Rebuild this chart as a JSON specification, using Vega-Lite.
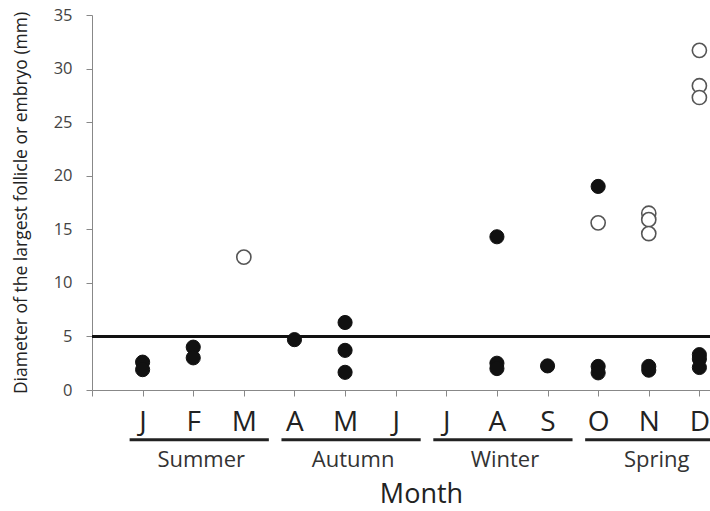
{
  "$schema": "https://vega.github.io/schema/vega-lite/v6.json",
  "autosize": "none",
  "padding": {"left": 92, "top": 15, "right": 0, "bottom": 121},
  "width": 658,
  "height": 375,
  "config": {"view": {"stroke": null}, "font": "Open Sans"},
  "datasets": {
    "points": [
      {"month": 1, "diameter": 2.6, "type": "follicle"},
      {"month": 1, "diameter": 1.9, "type": "follicle"},
      {"month": 2, "diameter": 4.0, "type": "follicle"},
      {"month": 2, "diameter": 3.0, "type": "follicle"},
      {"month": 3, "diameter": 12.4, "type": "embryo"},
      {"month": 4, "diameter": 4.7, "type": "follicle"},
      {"month": 5, "diameter": 6.3, "type": "follicle"},
      {"month": 5, "diameter": 3.7, "type": "follicle"},
      {"month": 5, "diameter": 1.65, "type": "follicle"},
      {"month": 8, "diameter": 14.3, "type": "follicle"},
      {"month": 8, "diameter": 2.5, "type": "follicle"},
      {"month": 8, "diameter": 2.0, "type": "follicle"},
      {"month": 9, "diameter": 2.25, "type": "follicle"},
      {"month": 10, "diameter": 19.0, "type": "follicle"},
      {"month": 10, "diameter": 15.6, "type": "embryo"},
      {"month": 10, "diameter": 2.2, "type": "follicle"},
      {"month": 10, "diameter": 1.6, "type": "follicle"},
      {"month": 11, "diameter": 16.5, "type": "embryo"},
      {"month": 11, "diameter": 15.9, "type": "embryo"},
      {"month": 11, "diameter": 14.6, "type": "embryo"},
      {"month": 11, "diameter": 2.2, "type": "follicle"},
      {"month": 11, "diameter": 1.85, "type": "follicle"},
      {"month": 12, "diameter": 31.7, "type": "embryo"},
      {"month": 12, "diameter": 28.4, "type": "embryo"},
      {"month": 12, "diameter": 27.3, "type": "embryo"},
      {"month": 12, "diameter": 3.3, "type": "follicle"},
      {"month": 12, "diameter": 2.9, "type": "follicle"},
      {"month": 12, "diameter": 2.1, "type": "follicle"}
    ],
    "seasons": [
      {"season": "Summer", "start": 1, "mid": 2, "end": 3},
      {"season": "Autumn", "start": 4, "mid": 5, "end": 6},
      {"season": "Winter", "start": 7, "mid": 8, "end": 9},
      {"season": "Spring", "start": 10, "mid": 11, "end": 12}
    ]
  },
  "layer": [
    {
      "data": {"values": [{"threshold": 5}]},
      "mark": {"type": "rule", "color": "#111", "strokeWidth": 3},
      "encoding": {"y": {"field": "threshold", "type": "quantitative", "scale": {"domain": [0, 35], "nice": false}}}
    },
    {
      "data": {"name": "points"},
      "mark": {"type": "point", "shape": "circle", "filled": false, "opacity": 1, "size": 200},
      "encoding": {
        "x": {
          "field": "month", "type": "quantitative",
          "scale": {"domain": [0, 13], "nice": false, "zero": false},
          "axis": {
            "title": "Month",
            "values": [0, 1, 2, 3, 4, 5, 6, 7, 8, 9, 10, 11, 12, 13],
            "labelExpr": "['','J','F','M','A','M','J','J','A','S','O','N','D',''][datum.value]",
            "labelFontSize": 28, "labelColor": "#222", "labelPadding": 12,
            "labelOverlap": false, "labelFlush": false,
            "grid": false, "domainColor": "#888", "tickColor": "#888", "tickSize": 6,
            "titleFontSize": 27, "titleFontWeight": "normal", "titleColor": "#222", "titlePadding": 45
          }
        },
        "y": {
          "field": "diameter", "type": "quantitative",
          "scale": {"domain": [0, 35], "nice": false},
          "axis": {
            "title": "Diameter of the largest follicle or embryo (mm)",
            "values": [0, 5, 10, 15, 20, 25, 30, 35],
            "labelFontSize": 16.5, "labelColor": "#444", "labelPadding": 14,
            "grid": false, "domainColor": "#888", "tickColor": "#888", "tickSize": 6,
            "titleFontSize": 17.5, "titleFontWeight": "normal", "titleColor": "#222", "titlePadding": 23
          }
        },
        "fill": {
          "field": "type", "type": "nominal",
          "scale": {"domain": ["follicle", "embryo"], "range": ["#111111", "#ffffff"]},
          "legend": null
        },
        "stroke": {
          "field": "type", "type": "nominal",
          "scale": {"domain": ["follicle", "embryo"], "range": ["#111111", "#555555"]},
          "legend": null
        },
        "strokeWidth": {
          "field": "type", "type": "nominal",
          "scale": {"domain": ["follicle", "embryo"], "range": [1, 1.6]},
          "legend": null
        }
      }
    },
    {
      "data": {"name": "seasons"},
      "mark": {"type": "rule", "color": "#222", "strokeWidth": 3, "xOffset": -13, "x2Offset": 25},
      "encoding": {
        "x": {"field": "start", "type": "quantitative"},
        "x2": {"field": "end"},
        "y": {"datum": -4.65}
      }
    },
    {
      "data": {"name": "seasons"},
      "mark": {"type": "text", "fontSize": 22, "color": "#333", "baseline": "alphabetic", "align": "center", "dx": 8},
      "encoding": {
        "x": {"field": "mid", "type": "quantitative"},
        "y": {"datum": -7.2},
        "text": {"field": "season"}
      }
    }
  ]
}
